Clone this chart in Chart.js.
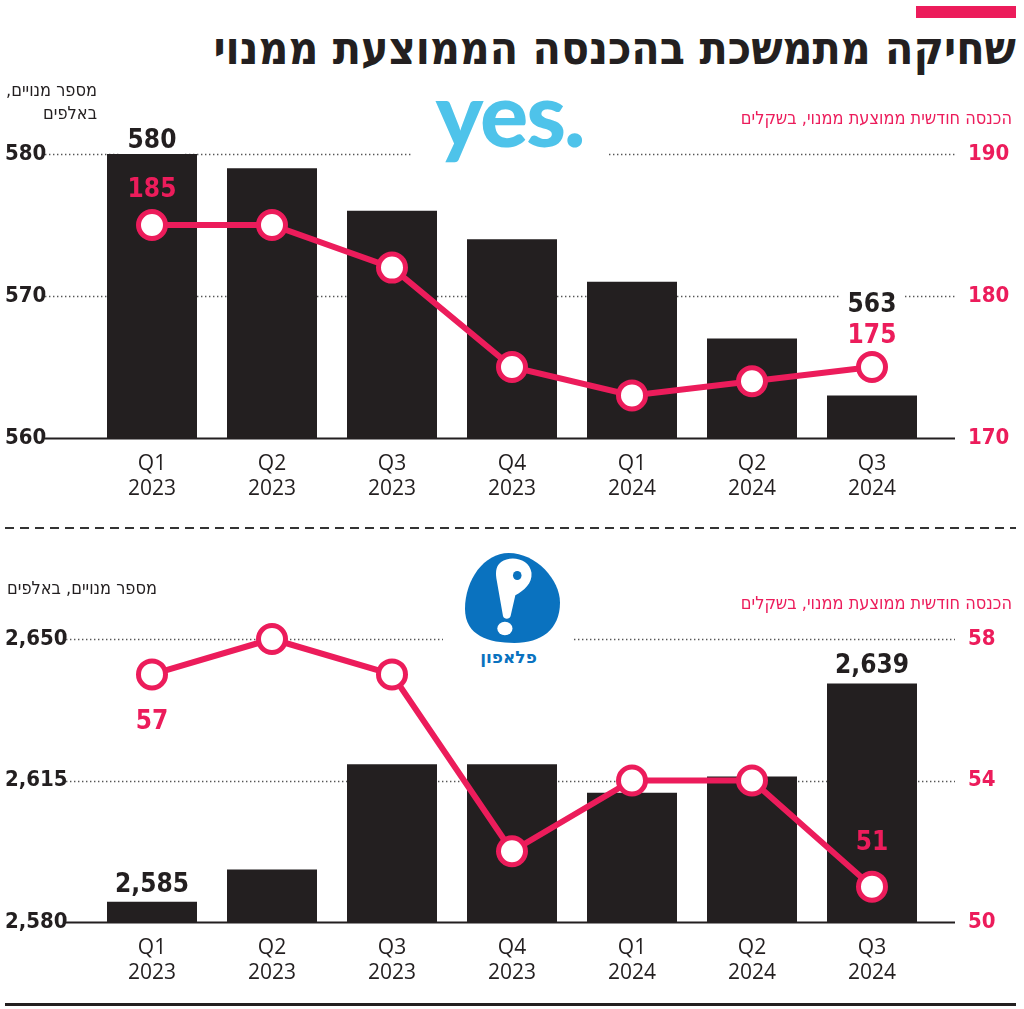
<!DOCTYPE html>
<html lang="he">
<head>
<meta charset="utf-8">
<script src="https://cdn.jsdelivr.net/npm/chart.js@4"></script>
<style>
  html, body { margin: 0; padding: 0; background: #fff; }
  body { width: 1024px; height: 1009px; position: relative; overflow: hidden; }
  .abs { position: absolute; }
  .box { position: absolute; left: 0; width: 1024px; }
  .heb { direction: rtl; font-family: "DejaVu Sans Condensed", "DejaVu Sans", sans-serif; white-space: nowrap; }
  #title { right: 8px; top: 18px; font-size: 46px; font-weight: bold; color: #231f20; line-height: 60px; }
  #tag { left: 916px; top: 6px; width: 100px; height: 12px; background: #ec1c5b; }
  .axTitle { font-size: 18px; color: #231f20; line-height: 23px; text-align: right; }
  .pink { color: #ec1c5b; }
  #yes { left: 411px; top: 84px; width: 197px; height: 82px; background: #fff; text-align: center;
         font-family: Lato, "Open Sans", sans-serif; font-weight: 900; font-size: 90px; line-height: 84px;
         color: #4ec3ea; letter-spacing: -2px; }
  #yes span { position: relative; top: -14px; }
  #pel { left: 443px; top: 548px; width: 131px; height: 126px; background: #fff; }
  #pel svg { position: absolute; left: 22px; top: 5px; }
  #pelName { position: absolute; left: 0; width: 131px; top: 99px; text-align: center; direction: rtl;
             font-family: "DejaVu Sans", sans-serif; font-weight: bold; font-size: 17px; color: #0a72bf; }
  #sep { left: 5px; top: 527px; width: 1011px; height: 2px;
         background: repeating-linear-gradient(to right, #333 0 9px, transparent 9px 15px); }
  #rule { left: 5px; top: 1003px; width: 1011px; height: 3px; background: #231f20; }
</style>
</head>
<body>
<div id="tag" class="abs"></div>
<div id="title" class="abs heb">שחיקה מתמשכת בהכנסה הממוצעת ממנוי</div>

<div class="box" style="top:100px;height:410px"><canvas id="yesChart"></canvas></div>
<div class="box" style="top:560px;height:434px"><canvas id="pelChart"></canvas></div>

<div class="abs heb axTitle" style="right:927px;top:78px">מספר מנויים,<br>באלפים</div>
<div class="abs heb axTitle pink" style="right:12px;top:106px">הכנסה חודשית ממוצעת ממנוי, בשקלים</div>
<div class="abs heb axTitle" style="right:867px;top:576px">מספר מנויים, באלפים</div>
<div class="abs heb axTitle pink" style="right:12px;top:591px">הכנסה חודשית ממוצעת ממנוי, בשקלים</div>

<div id="yes" class="abs"><span>yes.</span></div>
<div id="pel" class="abs">
  <svg width="95" height="90" viewBox="0 0 100 100" preserveAspectRatio="none">
    <path d="M46,0 C75,0 100,30 100,55 C100,85 80,100 52,100 C25,100 0,92 0,62 C0,30 20,0 46,0 Z" fill="#0a72bf"/>
    <path d="M38,10 C48,2 68,6 70,22 C71,34 62,42 53,47 L48,70 C47,74 41,74 40,70 L33,28 C32,20 33,14 38,10 Z" fill="#fff"/>
    <ellipse cx="55" cy="25" rx="4.5" ry="5" fill="#0a72bf"/>
    <ellipse cx="42" cy="84" rx="8" ry="7.5" fill="#fff"/>
  </svg>
  <div id="pelName">פלאפון</div>
</div>

<div id="sep" class="abs"></div>
<div id="rule" class="abs"></div>

<script>
const quarters = [['Q1', '2023'], ['Q2', '2023'], ['Q3', '2023'], ['Q4', '2023'], ['Q1', '2024'], ['Q2', '2024'], ['Q3', '2024']];

// yes
const yesSubscribers = [580, 579, 576, 574, 571, 567, 563];
const yesRevenue = [185, 185, 182, 175, 173, 174, 175];
const yesSubTicks = [560, 570, 580];
const yesRevTicks = [170, 180, 190];

// pelephone
const pelSubscribers = [2585, 2593, 2619, 2619, 2612, 2616, 2639];
const pelRevenue = [57, 58, 57, 52, 54, 54, 51];
const pelSubTicks = [2580, 2615, 2650];
const pelRevTicks = [50, 54, 58];

const PINK = '#ec1c5b';
const DARK = '#231f20';
const NUM_FONT = '"DejaVu Sans Condensed", sans-serif';

// dotted grid lines drawn across the full width, solid base line
const gridPlugin = {
  id: 'gridLines',
  beforeDatasetsDraw(chart, args, opts) {
    const ctx = chart.ctx;
    const y = chart.scales.y;
    ctx.save();
    y.ticks.forEach(t => {
      const py = Math.round(y.getPixelForValue(t.value));
      ctx.beginPath();
      if (t.value === y.min) {
        ctx.setLineDash([]);
        ctx.lineWidth = 2;
        ctx.strokeStyle = DARK;
      } else {
        ctx.setLineDash([1.4, 2.6]);
        ctx.lineWidth = 1.3;
        ctx.strokeStyle = '#555';
      }
      ctx.moveTo(opts.x0, py + 0.5);
      ctx.lineTo(opts.x1, py + 0.5);
      ctx.stroke();
    });
    ctx.restore();
  }
};

// value labels on chosen points only
const labelPlugin = {
  id: 'valueLabels',
  afterDatasetsDraw(chart, args, opts) {
    const ctx = chart.ctx;
    ctx.save();
    ctx.font = 'bold 26px ' + NUM_FONT;
    ctx.textAlign = 'center';
    ctx.textBaseline = 'alphabetic';
    opts.items.forEach(it => {
      const el = chart.getDatasetMeta(it.ds).data[it.i];
      const txt = chart.data.datasets[it.ds].data[it.i].toLocaleString('en-US');
      const by = el.y + it.dy;
      if (it.bg) {
        const w = ctx.measureText(txt).width;
        ctx.fillStyle = '#fff';
        ctx.fillRect(el.x - w / 2 - 7, by - 24, w + 14, 30);
      }
      ctx.fillStyle = it.color;
      ctx.fillText(txt, el.x, by);
    });
    ctx.restore();
  }
};

function makeChart(id, subs, revs, subTicks, revTicks, gridX0, labels, topPad) {
  const ctx = document.getElementById(id).getContext('2d');
  return new Chart(ctx, {
    type: 'bar',
    data: {
      labels: quarters,
      datasets: [{
        type: 'line',
        data: revs,
        yAxisID: 'y2',
        order: 0,
        borderColor: PINK,
        borderWidth: 6,
        pointRadius: 13.5,
        pointBorderWidth: 5,
        pointBackgroundColor: '#fff',
        pointBorderColor: PINK,
        tension: 0,
        clip: false
      }, {
        type: 'bar',
        data: subs,
        yAxisID: 'y',
        order: 1,
        backgroundColor: DARK,
        categoryPercentage: 1,
        barPercentage: 0.75
      }]
    },
    options: {
      responsive: true,
      maintainAspectRatio: false,
      animation: false,
      layout: { padding: { left: 5, right: 0, top: topPad, bottom: 0 } },
      plugins: {
        legend: { display: false },
        tooltip: { enabled: false },
        gridLines: { x0: gridX0, x1: 955 },
        valueLabels: { items: labels }
      },
      scales: {
        x: {
          grid: { display: false, drawTicks: false },
          border: { display: false },
          ticks: {
            color: DARK,
            padding: 13,
            font: { family: '"Open Sans", sans-serif', size: 21, lineHeight: 1.22 }
          },
          afterFit: s => { s.height = 72; }
        },
        y: {
          position: 'left',
          min: subTicks[0],
          max: subTicks[subTicks.length - 1],
          grid: { display: false, drawTicks: false },
          border: { display: false },
          afterBuildTicks: s => { s.ticks = subTicks.map(v => ({ value: v })); },
          afterFit: s => { s.width = 87; },
          ticks: {
            crossAlign: 'far',
            color: DARK,
            font: { family: NUM_FONT, size: 22, weight: 'bold' },
            callback: v => v.toLocaleString('en-US')
          }
        },
        y2: {
          position: 'right',
          min: revTicks[0],
          max: revTicks[revTicks.length - 1],
          grid: { display: false, drawTicks: false },
          border: { display: false },
          afterBuildTicks: s => { s.ticks = revTicks.map(v => ({ value: v })); },
          afterFit: s => { s.width = 92; },
          ticks: {
            crossAlign: 'near',
            padding: 36,
            color: PINK,
            font: { family: NUM_FONT, size: 22, weight: 'bold' }
          }
        }
      }
    },
    plugins: [gridPlugin, labelPlugin]
  });
}

makeChart('yesChart', yesSubscribers, yesRevenue, yesSubTicks, yesRevTicks, 45, [
  { ds: 1, i: 0, dy: -6, color: DARK, bg: true },
  { ds: 1, i: 6, dy: -83, color: DARK, bg: true },
  { ds: 0, i: 0, dy: -28, color: PINK },
  { ds: 0, i: 6, dy: -24, color: PINK }
], 54);

makeChart('pelChart', pelSubscribers, pelRevenue, pelSubTicks, pelRevTicks, 66, [
  { ds: 1, i: 0, dy: -10, color: DARK, bg: true },
  { ds: 1, i: 6, dy: -10, color: DARK, bg: true },
  { ds: 0, i: 0, dy: 55, color: PINK },
  { ds: 0, i: 6, dy: -37, color: PINK }
], 79);
</script>
</body>
</html>
